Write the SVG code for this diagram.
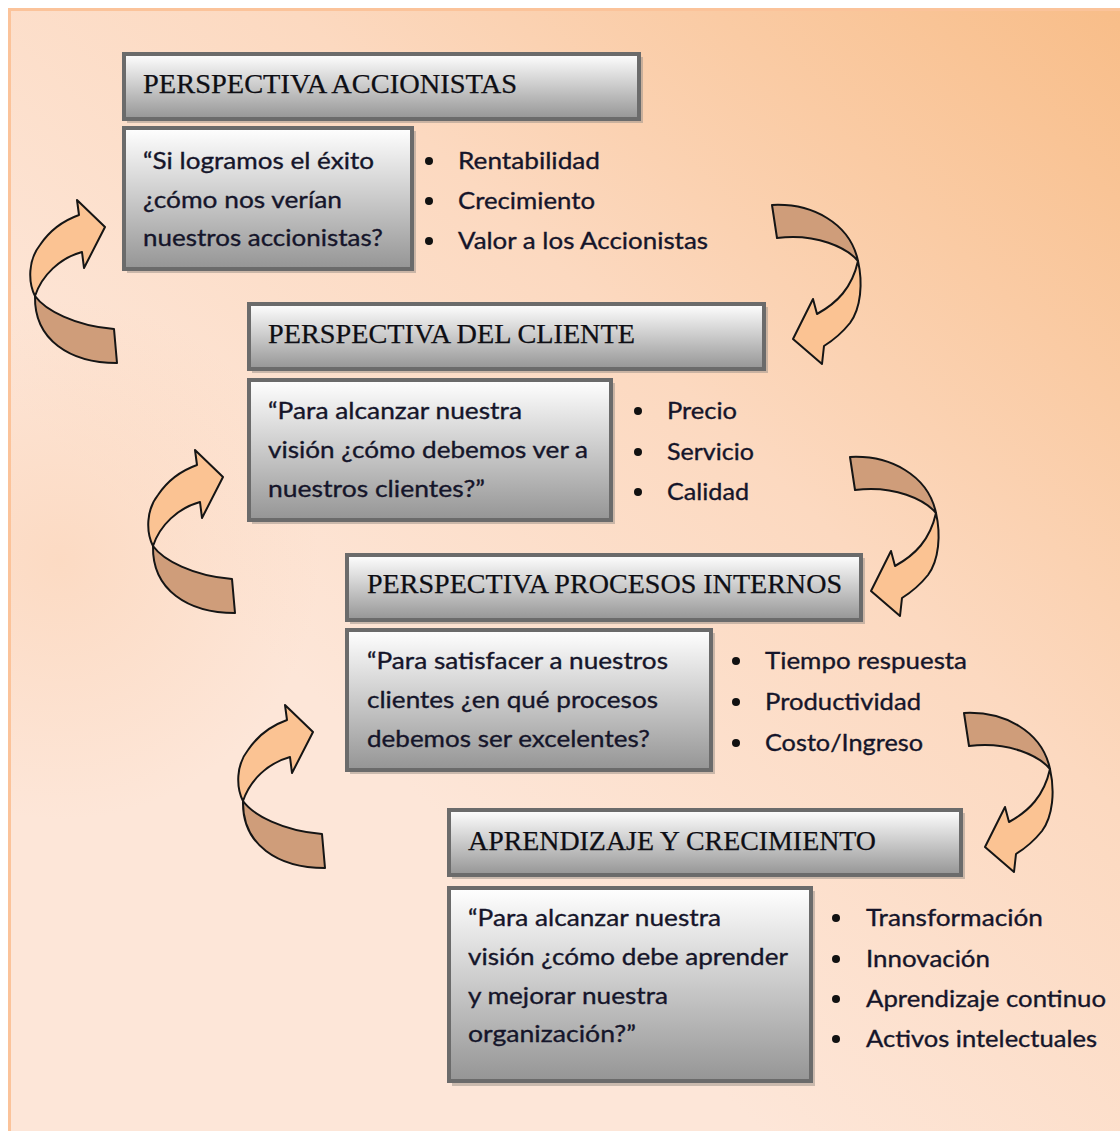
<svg xmlns="http://www.w3.org/2000/svg" xmlns:xlink="http://www.w3.org/1999/xlink" width="1120" height="1131" viewBox="0 0 1120 1131">
<defs>
<linearGradient id="bg" x1="1120" y1="0" x2="380" y2="760" gradientUnits="userSpaceOnUse">
<stop offset="0" stop-color="#f8bd88"/>
<stop offset="0.55" stop-color="#fcd9c0"/>
<stop offset="1" stop-color="#fde6d8"/>
</linearGradient>
<radialGradient id="bgL" cx="60" cy="560" r="260" gradientUnits="userSpaceOnUse">
<stop offset="0" stop-color="#fbcfae" stop-opacity="0.5"/>
<stop offset="1" stop-color="#fbcfae" stop-opacity="0"/>
</radialGradient>
<linearGradient id="gbox" x1="0" y1="0" x2="0" y2="1">
<stop offset="0" stop-color="#ffffff"/>
<stop offset="1" stop-color="#959595"/>
</linearGradient>
<g id="arrL">
<path class="dk" d="M 5,96 C 15,110 45,126 84,129 L 87,163 C 40,163 4,140 5,96 Z"/>
<path class="lt" d="M 49,15 L 47,0 L 75,27 L 54,68 L 52,52 C 30,58 12,75 5,96 C -2,82 -2,60 10,45 C 20,30 35,20 49,15 Z"/>
</g>
<g id="arrR">
<path class="dk" d="M 0,2 C 40,0 78,20 86,58 C 75,45 45,30 5,35 Z"/>
<path class="lt" d="M 86,58 C 91,80 89,105 78,120 C 70,130 60,138 52,143 L 50,161 L 21,136 L 41,96 L 45,111 C 65,100 80,85 86,58 Z"/>
</g>
</defs>
<style>
.box{fill:url(#gbox);stroke:#6b6b6b;stroke-width:4}
.sh{fill:#a0958c;opacity:0.55}
.hd{font-family:"Liberation Serif","Times New Roman",serif;font-size:27px;fill:#0e0e14;stroke:#0e0e14;stroke-width:0.25}
.tx{font-family:Lato,"Liberation Sans",sans-serif;font-size:24px;fill:#15152a;stroke:#15152a;stroke-width:0.35}
.dot{fill:#111}
.lt{fill:#fbc393;stroke:#151515;stroke-width:2;stroke-linejoin:round}
.dk{fill:#cf9d7a;stroke:#151515;stroke-width:2;stroke-linejoin:round}
</style>
<rect x="0" y="0" width="1120" height="1131" fill="#ffffff"/>
<rect x="8" y="8" width="1112" height="1123" fill="url(#bg)"/>
<rect x="8" y="8" width="1112" height="1123" fill="url(#bgL)"/>
<path d="M 9.5,1131 L 9.5,9.5 L 1120,9.5" fill="none" stroke="#fbc39a" stroke-width="3"/>

<g id="connectors">
<use xlink:href="#arrL" href="#arrL" x="30" y="200"/>
<use xlink:href="#arrL" href="#arrL" x="148" y="450"/>
<use xlink:href="#arrL" href="#arrL" x="238" y="705"/>
<use xlink:href="#arrR" href="#arrR" x="772" y="203"/>
<use xlink:href="#arrR" href="#arrR" x="850" y="455"/>
<use xlink:href="#arrR" href="#arrR" x="964" y="711"/>
</g>

<g id="node-accionistas">
<rect class="sh" x="127" y="57" width="516" height="66"/>
<rect class="box" x="124" y="54" width="515" height="65"/>
<text class="hd" x="143" y="93" textLength="374" lengthAdjust="spacingAndGlyphs">PERSPECTIVA ACCIONISTAS</text>
<rect class="sh" x="127" y="131" width="289" height="142"/>
<rect class="box" x="124" y="128" width="288" height="141"/>
<text class="tx" x="143" y="169" textLength="231" lengthAdjust="spacingAndGlyphs">“Si logramos el éxito</text>
<text class="tx" x="143" y="208" textLength="199" lengthAdjust="spacingAndGlyphs">¿cómo nos verían</text>
<text class="tx" x="143" y="246" textLength="240" lengthAdjust="spacingAndGlyphs">nuestros accionistas?</text>
<circle class="dot" cx="429" cy="161" r="4"/>
<circle class="dot" cx="429" cy="201" r="4"/>
<circle class="dot" cx="429" cy="241" r="4"/>
<text class="tx" x="458" y="169" textLength="142" lengthAdjust="spacingAndGlyphs">Rentabilidad</text>
<text class="tx" x="458" y="209" textLength="137" lengthAdjust="spacingAndGlyphs">Crecimiento</text>
<text class="tx" x="458" y="249" textLength="250" lengthAdjust="spacingAndGlyphs">Valor a los Accionistas</text>
</g>

<g id="node-cliente">
<rect class="sh" x="252" y="307" width="516" height="66"/>
<rect class="box" x="249" y="304" width="515" height="65"/>
<text class="hd" x="268" y="343" textLength="367" lengthAdjust="spacingAndGlyphs">PERSPECTIVA DEL CLIENTE</text>
<rect class="sh" x="252" y="383" width="363" height="141"/>
<rect class="box" x="249" y="380" width="362" height="140"/>
<text class="tx" x="268" y="419" textLength="254" lengthAdjust="spacingAndGlyphs">“Para alcanzar nuestra</text>
<text class="tx" x="268" y="458" textLength="320" lengthAdjust="spacingAndGlyphs">visión ¿cómo debemos ver a</text>
<text class="tx" x="268" y="497" textLength="217" lengthAdjust="spacingAndGlyphs">nuestros clientes?”</text>
<circle class="dot" cx="638" cy="411" r="4"/>
<circle class="dot" cx="638" cy="452" r="4"/>
<circle class="dot" cx="638" cy="492" r="4"/>
<text class="tx" x="667" y="419" textLength="70" lengthAdjust="spacingAndGlyphs">Precio</text>
<text class="tx" x="667" y="460" textLength="87" lengthAdjust="spacingAndGlyphs">Servicio</text>
<text class="tx" x="667" y="500" textLength="82" lengthAdjust="spacingAndGlyphs">Calidad</text>
</g>

<g id="node-procesos">
<rect class="sh" x="350" y="558" width="515" height="66"/>
<rect class="box" x="347" y="555" width="514" height="65"/>
<text class="hd" x="367" y="593" textLength="475" lengthAdjust="spacingAndGlyphs">PERSPECTIVA PROCESOS INTERNOS</text>
<rect class="sh" x="350" y="633" width="365" height="141"/>
<rect class="box" x="347" y="630" width="364" height="140"/>
<text class="tx" x="367" y="669" textLength="301" lengthAdjust="spacingAndGlyphs">“Para satisfacer a nuestros</text>
<text class="tx" x="367" y="708" textLength="291" lengthAdjust="spacingAndGlyphs">clientes ¿en qué procesos</text>
<text class="tx" x="367" y="747" textLength="283" lengthAdjust="spacingAndGlyphs">debemos ser excelentes?</text>
<circle class="dot" cx="736" cy="661" r="4"/>
<circle class="dot" cx="736" cy="702" r="4"/>
<circle class="dot" cx="736" cy="743" r="4"/>
<text class="tx" x="765" y="669" textLength="202" lengthAdjust="spacingAndGlyphs">Tiempo respuesta</text>
<text class="tx" x="765" y="710" textLength="156" lengthAdjust="spacingAndGlyphs">Productividad</text>
<text class="tx" x="765" y="751" textLength="158" lengthAdjust="spacingAndGlyphs">Costo/Ingreso</text>
</g>

<g id="node-aprendizaje">
<rect class="sh" x="452" y="813" width="513" height="66"/>
<rect class="box" x="449" y="810" width="512" height="65"/>
<text class="hd" x="468" y="850" textLength="408" lengthAdjust="spacingAndGlyphs">APRENDIZAJE Y CRECIMIENTO</text>
<rect class="sh" x="452" y="891" width="363" height="195"/>
<rect class="box" x="449" y="888" width="362" height="193"/>
<text class="tx" x="468" y="926" textLength="253" lengthAdjust="spacingAndGlyphs">“Para alcanzar nuestra</text>
<text class="tx" x="468" y="965" textLength="320" lengthAdjust="spacingAndGlyphs">visión ¿cómo debe aprender</text>
<text class="tx" x="468" y="1004" textLength="200" lengthAdjust="spacingAndGlyphs">y mejorar nuestra</text>
<text class="tx" x="468" y="1042" textLength="168" lengthAdjust="spacingAndGlyphs">organización?”</text>
<circle class="dot" cx="836" cy="918" r="4"/>
<circle class="dot" cx="836" cy="959" r="4"/>
<circle class="dot" cx="836" cy="999" r="4"/>
<circle class="dot" cx="836" cy="1039" r="4"/>
<text class="tx" x="866" y="926" textLength="177" lengthAdjust="spacingAndGlyphs">Transformación</text>
<text class="tx" x="866" y="967" textLength="124" lengthAdjust="spacingAndGlyphs">Innovación</text>
<text class="tx" x="866" y="1007" textLength="240" lengthAdjust="spacingAndGlyphs">Aprendizaje continuo</text>
<text class="tx" x="866" y="1047" textLength="231" lengthAdjust="spacingAndGlyphs">Activos intelectuales</text>
</g>
</svg>
